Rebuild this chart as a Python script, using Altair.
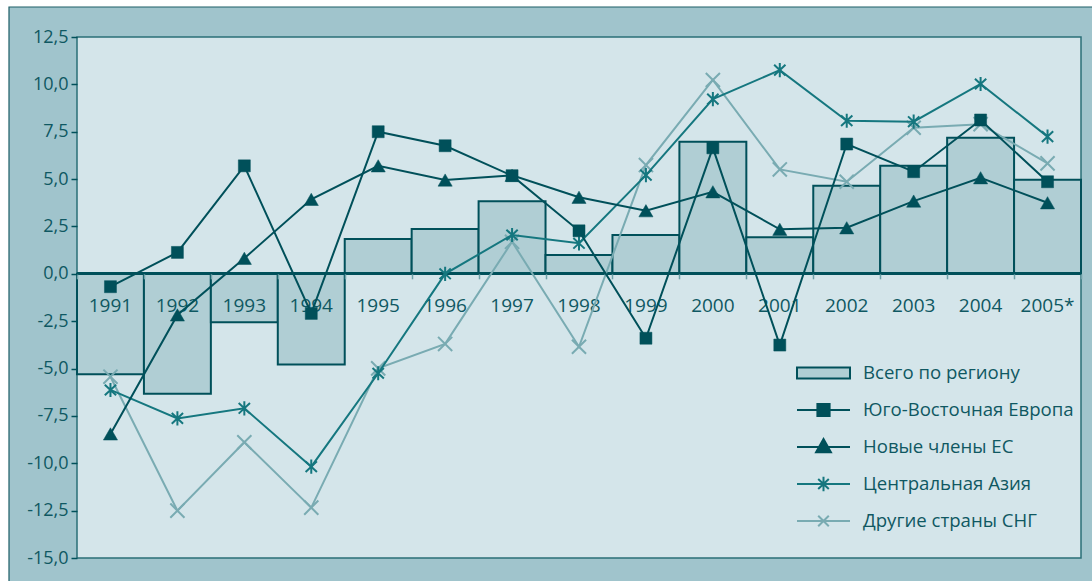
import altair as alt
import pandas as pd

# Годы и ряды: темпы роста ВВП, %
years = ["1991", "1992", "1993", "1994", "1995", "1996", "1997", "1998",
         "1999", "2000", "2001", "2002", "2003", "2004", "2005*"]
total = [-5.3, -6.33, -2.56, -4.78, 1.84, 2.36, 3.83, 0.99,
         2.05, 6.97, 1.93, 4.65, 5.7, 7.18, 4.97]
se_europe = [-0.68, 1.13, 5.7, -2.09, 7.5, 6.76, 5.18, 2.27,
             -3.4, 6.65, -3.76, 6.85, 5.39, 8.12, 4.86]
new_eu = [-8.45, -2.17, 0.82, 3.93, 5.7, 4.95, 5.2, 4.04,
          3.33, 4.33, 2.35, 2.43, 3.84, 5.07, 3.75]
central_asia = [-6.13, -7.63, -7.1, -10.18, -5.25, 0.0, 2.05, 1.61,
                5.21, 9.22, 10.75, 8.08, 8.03, 10.02, 7.24]
other_cis = [-5.43, -12.5, -8.89, -12.34, -4.99, -3.7, 1.69, -3.85,
             5.74, 10.23, 5.51, 4.86, 7.71, 7.9, 5.83]

series_names = ["Всего по региону", "Юго-Восточная Европа", "Новые члены ЕС",
                "Центральная Азия", "Другие страны СНГ"]

y_ticks = [-15 + 2.5 * i for i in range(12)]

df = pd.DataFrame({
    "year": years,
    "total": total,
    "se": se_europe,
    "eu": new_eu,
    "ca": central_asia,
    "cis": other_cis,
})

W, H = 1004, 521
FONT = "Open Sans"
TEXT = "#0f5862"
DARK = "#00505a"
TEAL = "#15777f"
LIGHT = "#79abb2"
OUTER = "#a0c4cc"
PLOT_BG = "#d4e5ea"
BAR = "#b0ced4"

y_min, y_max = -15.0, 12.5
zero_px = H * y_max / (y_max - y_min)

x_axis = alt.Axis(labels=False, domain=False, ticks=True, tickBand="extent",
                  tickSize=5, tickWidth=1.5, tickColor="#6fa2a9",
                  offset=-(H - zero_px), title=None, grid=False, zindex=1)
y_axis = alt.Axis(values=y_ticks, domain=False, ticks=True, tickSize=6,
                  tickWidth=1.5, tickColor=DARK, labelFont=FONT, labelFontSize=18,
                  labelColor=TEXT, labelPadding=3, title=None, grid=False, zindex=1,
                  labelExpr="(datum.value < 0 ? '-' : '') + replace(format(abs(datum.value), '.1f'), '.', ',')")


def x_enc():
    return alt.X("year:N", sort=years,
                 scale=alt.Scale(domain=years, paddingInner=0, paddingOuter=0),
                 axis=x_axis)


def y_enc(field):
    return alt.Y(f"{field}:Q", scale=alt.Scale(domain=[y_min, y_max], nice=False, zero=False),
                 axis=y_axis)


one = alt.Data(values=[{"k": 1}])

# outer panel with white margin at the top and left
frame = alt.Chart(one).mark_rect(fill=OUTER, stroke="#1d5e66", strokeWidth=1.2).encode(
    x=alt.value(-68), x2=alt.value(W + 40), y=alt.value(-30), y2=alt.value(H + 60)
)
plot_bg = alt.Chart(one).mark_rect(fill=PLOT_BG, stroke="#2a6f77", strokeWidth=1.5).encode(
    x=alt.value(0), x2=alt.value(W), y=alt.value(0), y2=alt.value(H)
)

base = alt.Chart(df)

bars = base.mark_bar(fill=BAR, stroke=DARK, strokeWidth=2).encode(
    x=x_enc(), y=y_enc("total"), y2=alt.datum(0)
)

zero_rule = base.mark_rule(color=DARK, strokeWidth=2.5).encode(y=alt.datum(0))

year_labels = base.mark_text(font=FONT, fontSize=19, color=TEXT,
                             baseline="alphabetic", dy=38).encode(
    x=x_enc(), y=alt.datum(0), text="year:N"
)

ASTERISK = "M0,-1V1M-0.8,-0.75L0.8,0.75M-0.8,0.75L0.8,-0.75"
XMARK = "M-1,-1L1,1M-1,1L1,-1"


def series_layers(field, color, shape, size, filled):
    line = base.mark_line(color=color, strokeWidth=2).encode(x=x_enc(), y=y_enc(field))
    if filled:
        pts = base.mark_point(shape=shape, size=size, filled=True, fill=color,
                              stroke=color, strokeWidth=0.5, opacity=1)
    else:
        pts = base.mark_point(shape=shape, size=size, filled=False, stroke=color,
                              strokeWidth=2, opacity=1)
    pts = pts.encode(x=x_enc(), y=y_enc(field))
    return [line, pts]


layers = []
layers += series_layers("cis", LIGHT, XMARK, 200, False)
layers += series_layers("ca", TEAL, ASTERISK, 200, False)
layers += series_layers("eu", DARK, "triangle-up", 200, True)
layers += series_layers("se", DARK, "square", 144, True)

# legend symbols: a 53 px wide swatch with the line and its marker
legend_shapes = [
    "M-1,-0.21H1V0.21H-1Z",
    "M-1,0H1M-0.23,-0.23H0.23V0.23H-0.23Z",
    "M-1,0H1M0,-0.3L0.28,0.2H-0.28Z",
    "M-1,0H1M0,-0.27V0.27M-0.2,-0.19L0.2,0.19M-0.2,0.19L0.2,-0.19",
    "M-1,0H1M-0.2,-0.2L0.2,0.2M-0.2,0.2L0.2,-0.2",
]
legend_fills = [BAR, DARK, DARK, "transparent", "transparent"]
legend_strokes = [DARK, DARK, DARK, TEAL, LIGHT]

legend = alt.Legend(orient="none", legendX=719, legendY=326, direction="vertical",
                    title=None, labelFont=FONT, labelFontSize=18.6, labelColor=TEXT,
                    labelOffset=12, symbolSize=2809, clipHeight=20, rowPadding=17,
                    padding=0, symbolStrokeWidth=2, labelLimit=400)

legend_df = pd.DataFrame({"name": series_names})
legend_layer = alt.Chart(legend_df).mark_point(opacity=1, strokeWidth=2).encode(
    x=alt.value(-2000), y=alt.value(-2000),
    shape=alt.Shape("name:N", scale=alt.Scale(domain=series_names, range=legend_shapes), legend=legend),
    fill=alt.Fill("name:N", scale=alt.Scale(domain=series_names, range=legend_fills), legend=legend),
    stroke=alt.Stroke("name:N", scale=alt.Scale(domain=series_names, range=legend_strokes), legend=legend),
)

chart = alt.layer(frame, plot_bg, bars, zero_rule, year_labels, *layers, legend_layer).properties(
    width=W, height=H,
    autosize=alt.AutoSizeParams(type="none"),
    padding={"left": 77, "top": 37, "right": 11, "bottom": 23},
    background="white",
).configure_view(stroke=None)

chart.save("out.html", embed_options={"renderer": "svg", "actions": False})
